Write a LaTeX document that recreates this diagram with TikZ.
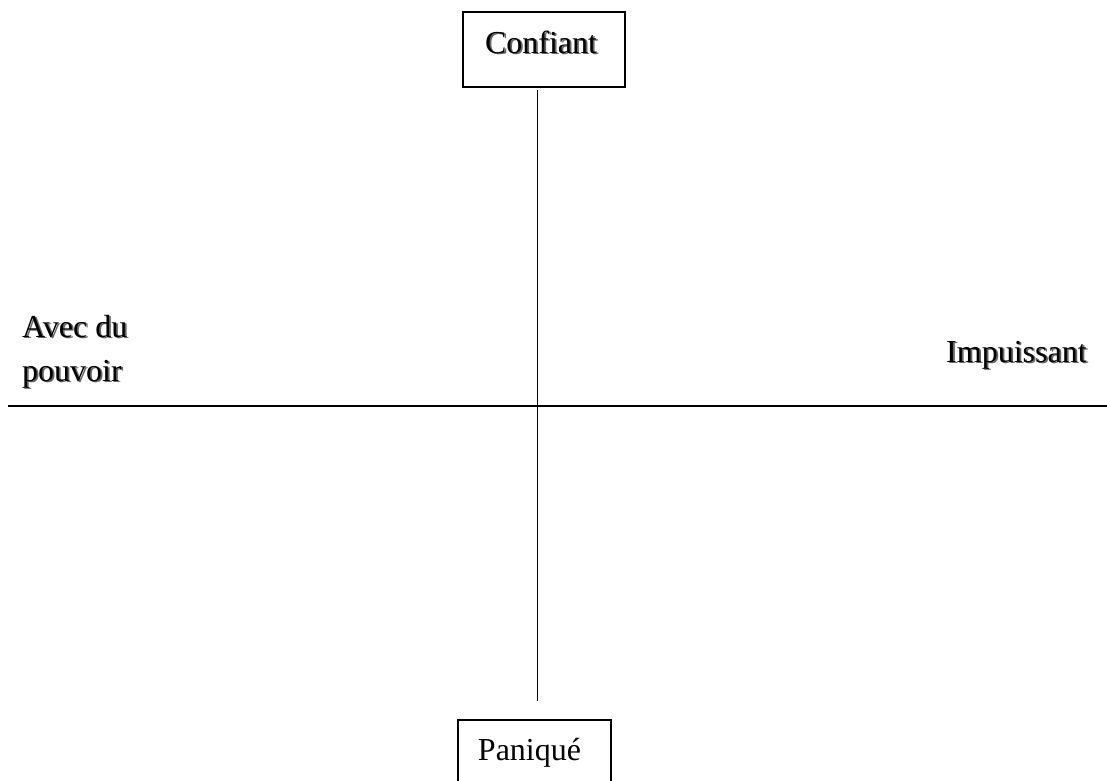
\documentclass[tikz,border=0pt]{standalone}
\usepackage{fontspec}
\setmainfont{Liberation Serif}
\newcommand{\shadowed}[1]{\makebox[0pt][l]{\hspace{1.8pt}\raisebox{-1.8pt}{\color{black!60}#1}}#1}
\tikzset{
  framebox/.style={draw=black, line width=2pt, inner sep=0pt},
  label/.style={inner sep=0pt, font=\fontsize{32}{44}\selectfont},
}
\begin{document}
\begin{tikzpicture}[x=1pt,y=-1pt]
\useasboundingbox (0,0) rectangle (1107,780);
\clip (0,0) rectangle (1107,780);
\fill[white] (0,0) rectangle (1107,780);
% boxes
\node[framebox, minimum width=162pt, minimum height=75pt] (confiant) at (544,49.5) {};
\node[label, anchor=base] (confianttext) at (541,53) {\shadowed{Confiant}};
\node[framebox, minimum width=153pt, minimum height=100pt, anchor=north] (panique) at (534.5,719) {};
\node[label, anchor=base] (paniquetext) at (529.5,760) {Paniqué};
% side labels
\node[label, anchor=base west, align=left] (avec) at (22,337) {\shadowed{Avec du}};
\node[label, anchor=base west, align=left] (pouvoir) at (22,381) {\shadowed{pouvoir}};
\node[label, anchor=base west] (impuissant) at (946,362) {\shadowed{Impuissant}};
% axes
\coordinate (vtop) at (537,90);
\coordinate (vbot) at (537,701);
\coordinate (hleft) at (8,406);
\coordinate (hright) at (1107,406);
\draw[line width=1pt] (vtop) -- (vbot);
\draw[line width=2pt] (hleft) -- (hright);
\end{tikzpicture}
\end{document}
